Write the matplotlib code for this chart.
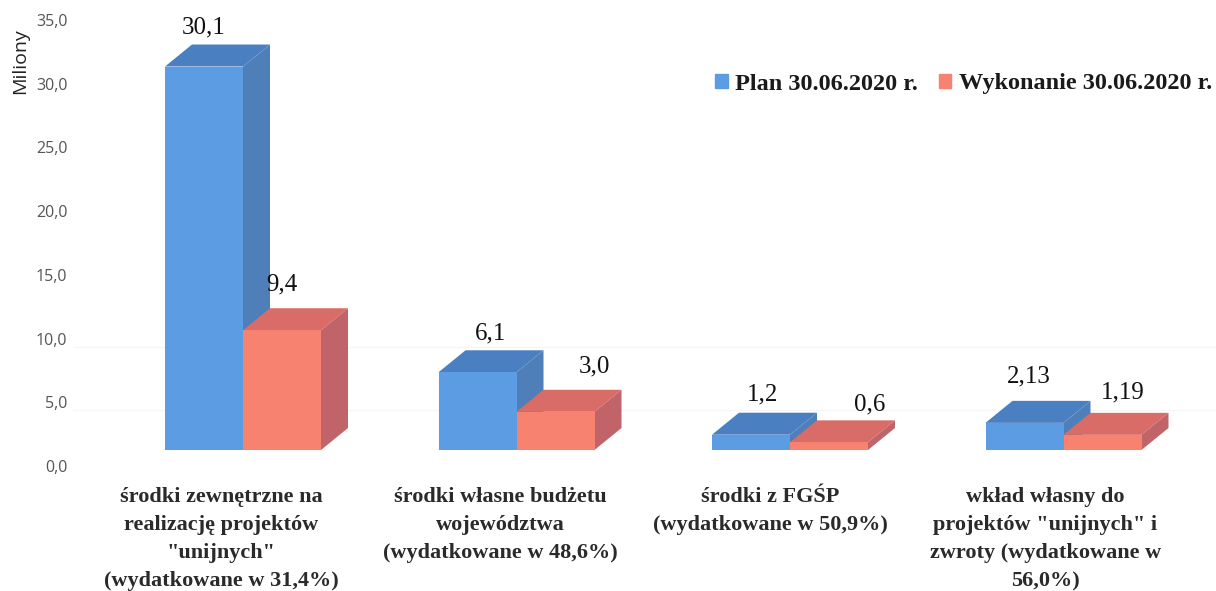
#! /usr/bin/env python3

"""
Plan and execution on 30.06.2020 as a pseudo 3D column chart.
Saves the figure as out.png.
"""

import matplotlib
matplotlib.use("Agg")
import matplotlib.pyplot as plt
from matplotlib.patches import Patch, Polygon
from matplotlib.transforms import ScaledTranslation

categories = [
    'środki zewnętrzne na\nrealizację projektów\n"unijnych"\n(wydatkowane w 31,4%)',
    'środki własne budżetu\nwojewództwa\n(wydatkowane w 48,6%)',
    'środki z FGŚP\n(wydatkowane w 50,9%)',
    'wkład własny do\nprojektów "unijnych" i\nzwroty (wydatkowane w\n56,0%)',
]
plan = [30.1, 6.1, 1.2, 2.13]
wykonanie = [9.4, 3.0, 0.6, 1.19]
plan_labels = ["30,1", "6,1", "1,2", "2,13"]
wykonanie_labels = ["9,4", "3,0", "0,6", "1,19"]
y_ticks = [0, 5, 10, 15, 20, 25, 30, 35]
grid_values = [5, 10]

# Pixel layout of the picture
W, H = 1216, 591
LEFT_PX = 73
X0_PX = 243        # boundary of the two bars in the first group
GROUP_PX = 273.5
BASE_PX = 450      # front base of the bars
UNIT_PX = 12.74    # pixels per one million
BAR_PX = 78
DEPTH_X_PX = 27
DEPTH_Y_PX = 22

# Label nudges in pixels, from the middle of the front face top
plan_nudge = [(0, 39), (13, 39), (12, 40), (4, 46)]
wykonanie_nudge = [(0, 46), (39, 45), (41, 38), (20, 42)]
category_nudge = [-22, -16, -20, -18]

BLUE = ("#5C9CE3", "#4A80C2", "#4F7FB8")
RED = ("#F6826F", "#D96C66", "#C1646A")
SERIF = "Liberation Serif"
SANS = "Open Sans"


def draw_series(ax, xs, values, colors, width, depth_x, depth_y):
    # Front face through bar, top and side as polygons behind it
    front, top, side = colors
    for x, v in zip(xs, values):
        left, right = x, x + width
        ax.add_patch(Polygon([(left, v), (right, v), (right + depth_x, v + depth_y),
                              (left + depth_x, v + depth_y)], color=top, lw=0, zorder=3))
        ax.add_patch(Polygon([(right, 0), (right + depth_x, depth_y),
                              (right + depth_x, v + depth_y), (right, v)],
                             color=side, lw=0, zorder=3))
    ax.bar(xs, values, width=width, align="edge", color=front, lw=0, zorder=3)


def annotate_series(ax, xs, values, labels, nudges, width):
    for x, v, text, (dx, dy) in zip(xs, values, labels, nudges):
        ax.annotate(text, (x + width / 2, v), xytext=(dx, dy), textcoords="offset pixels",
                    ha="center", va="center", family=SERIF, fontsize=18,
                    color="#111111", zorder=5)


fig = plt.figure(figsize=(W / 100, H / 100), dpi=100)
ax = fig.add_axes([LEFT_PX / W, 0, 1 - LEFT_PX / W, 1])
ax.set_xlim((LEFT_PX - X0_PX) / GROUP_PX, (W - X0_PX) / GROUP_PX)
ax.set_ylim((BASE_PX - H) / UNIT_PX, BASE_PX / UNIT_PX)

width = BAR_PX / GROUP_PX
depth_x = DEPTH_X_PX / GROUP_PX
depth_y = DEPTH_Y_PX / UNIT_PX
centers = list(range(len(categories)))

# Faint gridlines left over from the scan, they sit lower than the tick labels
for v in grid_values:
    ax.axhline(v - 24 / UNIT_PX, color="#f6f6f6", lw=1, zorder=1)

# Plan first, so the red bars overlap the blue side faces
draw_series(ax, [c - width for c in centers], plan, BLUE, width, depth_x, depth_y)
draw_series(ax, centers, wykonanie, RED, width, depth_x, depth_y)

annotate_series(ax, [c - width for c in centers], plan, plan_labels, plan_nudge, width)
annotate_series(ax, centers, wykonanie, wykonanie_labels, wykonanie_nudge, width)

# Category labels hang from a common top line
for c, text, dx in zip(centers, categories, category_nudge):
    ax.annotate(text, (c, 0), xytext=(dx, -37), textcoords="offset pixels",
                ha="center", va="top", family=SERIF, fontsize=16, fontweight="bold",
                color="#2a2a2a", linespacing=1.54)

# Tick labels sit 16 px under the front plane value
ax.set_xticks([])
ax.set_yticks(y_ticks)
ax.set_yticklabels([f"{v:.1f}".replace(".", ",") for v in y_ticks],
                   family=SANS, fontsize=11.5, color="#555555")
ax.tick_params(axis="y", length=0, pad=4, direction="in")
shift = ScaledTranslation(0, -16 / 100, fig.dpi_scale_trans)
for label in ax.get_yticklabels():
    label.set_transform(label.get_transform() + shift)
    label.set_ha("right")
    label.set_x(0)
ax.yaxis.set_tick_params(labelleft=True)
for spine in ax.spines.values():
    spine.set_visible(False)
ax.patch.set_alpha(0)

fig.text(20 / W, 1 - 61 / H, "Miliony", rotation=90, ha="center", va="center",
         family=SANS, fontsize=14, color="#222222")

handles = [Patch(color=BLUE[0], label="Plan 30.06.2020 r."),
           Patch(color=RED[0], label="Wykonanie 30.06.2020 r.")]
ax.legend(handles=handles, ncol=2, frameon=False, loc="center right",
          bbox_to_anchor=(1212 / W, 1 - 84 / H), bbox_transform=fig.transFigure,
          prop={"family": SERIF, "size": 17.5, "weight": "bold"},
          handlelength=0.53, handleheight=0.53, handletextpad=0.3, columnspacing=0.85,
          borderpad=0, borderaxespad=0, labelcolor="#1a1a1a")

fig.savefig("out.png", dpi=100)
